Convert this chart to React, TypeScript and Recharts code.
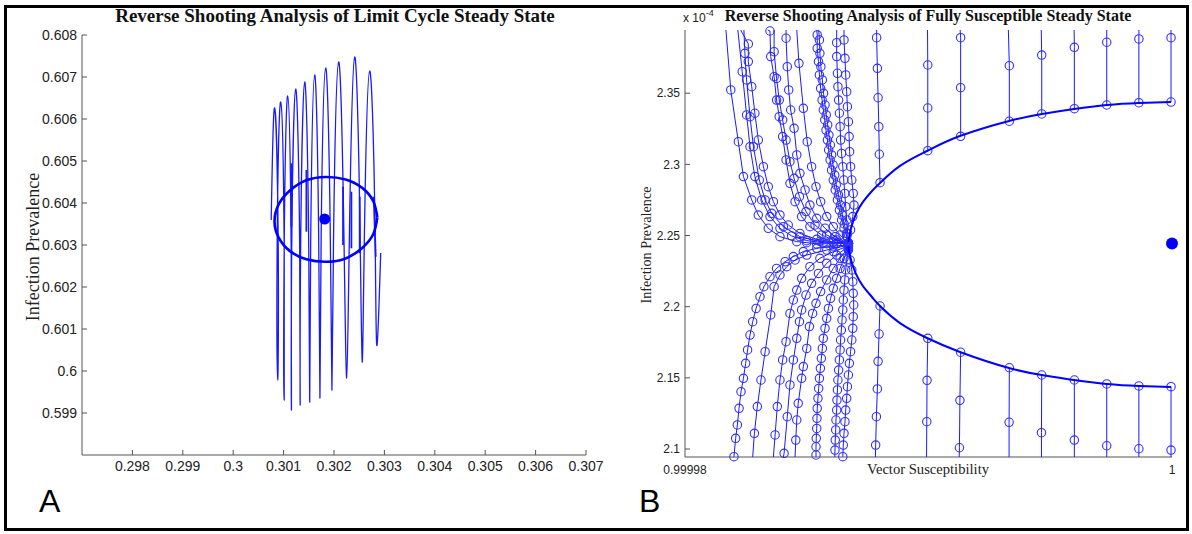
import React from 'react';
import { ComposedChart, Scatter, XAxis, YAxis } from 'recharts';

// ---------------- Panel A: limit cycle ----------------
const A_X_TICKS = [0.298, 0.299, 0.3, 0.301, 0.302, 0.303, 0.304, 0.305, 0.306, 0.307];
const A_Y_TICKS = [0.599, 0.6, 0.601, 0.602, 0.603, 0.604, 0.605, 0.606, 0.607, 0.608];

// trajectory: start, then per cycle: peak, down-stroke middle, trough, up-stroke middle
const A_SPIRAL = [
  [0.300754, 0.603595],
  [0.300823, 0.606262], [0.300893, 0.603024], [0.300883, 0.599786], [0.300873, 0.603095],
  [0.300942, 0.606405], [0.301012, 0.602857], [0.301012, 0.599309], [0.301012, 0.602928],
  [0.301081, 0.606548], [0.301151, 0.602809], [0.301156, 0.599071], [0.301161, 0.602881],
  [0.30124, 0.606714], [0.301319, 0.602952], [0.301329, 0.59919], [0.301339, 0.603024],
  [0.301419, 0.606881], [0.301498, 0.603071], [0.301518, 0.599262], [0.301538, 0.603143],
  [0.301617, 0.607048], [0.301696, 0.60319], [0.301721, 0.599357], [0.301746, 0.603286],
  [0.301835, 0.607214], [0.301925, 0.603381], [0.301959, 0.599547], [0.301994, 0.603452],
  [0.302093, 0.607357], [0.302192, 0.603595], [0.302252, 0.599833], [0.302311, 0.603643],
  [0.302411, 0.607476], [0.30251, 0.603833], [0.30256, 0.600214], [0.302609, 0.603667],
  [0.302708, 0.607143], [0.302808, 0.603881], [0.302847, 0.600619],
  [0.302927, 0.602809],
];

const A_STROKES = [
  [[0.301155, 0.604945], [0.301155, 0.603436]],
  [[0.301452, 0.604786], [0.301452, 0.603317]],
  [[0.302179, 0.604388], [0.302179, 0.603]],
  [[0.302345, 0.604269], [0.302345, 0.602921]],
  [[0.30251, 0.60415], [0.30251, 0.602802]],
  [[0.302788, 0.60415], [0.302828, 0.602721]],
];

const A_CYCLE = [
  [0.30286, 0.60366], [0.30278, 0.60404], [0.30256, 0.60436], [0.30223, 0.60456],
  [0.30184, 0.60462], [0.30145, 0.60454], [0.30112, 0.60429], [0.3009, 0.60396],
  [0.30082, 0.60356], [0.3009, 0.60318], [0.30112, 0.60286], [0.30145, 0.60266],
  [0.30184, 0.6026], [0.30223, 0.60268], [0.30256, 0.60293], [0.30278, 0.60326],
  [0.30286, 0.60366],
];

const A_STEADY = [[0.301815, 0.603619]];

// ---------------- Panel B: fully susceptible ----------------
// x stored as offset from 0.99998 in units of 1e-6, y in units of 1e-4
const B_X0 = 0.99998;
const B_X_TICKS = [0.99998, 1];
const B_Y_TICKS = [2.1, 2.15, 2.2, 2.25, 2.3, 2.35];
const B_Y_MIN = 2.0944;
const B_Y_MAX = 2.3944;

const UA = [[1.68, 2.401], [1.88, 2.3523], [2.19, 2.3159], [2.4, 2.2914], [2.74, 2.275], [3.01, 2.2644], [3.42, 2.2551], [3.9, 2.2492], [4.59, 2.2457], [5.0, 2.245], [5.41, 2.2441], [5.82, 2.2443], [6.23, 2.2443], [6.71, 2.2445]];
const UB = [[2.17, 2.401], [2.35, 2.3651], [2.53, 2.3347], [2.67, 2.3124], [2.87, 2.2914], [3.15, 2.275], [3.49, 2.2633], [3.9, 2.2551], [4.38, 2.2497], [5.0, 2.2464], [5.68, 2.245], [6.23, 2.2445], [6.71, 2.2445]];
const UC = [[2.29, 2.401], [2.6, 2.3846], [2.6, 2.3722], [2.74, 2.3546], [2.87, 2.3359], [3.01, 2.3171], [3.22, 2.2984], [3.42, 2.2843], [3.63, 2.2738], [3.9, 2.2644], [4.24, 2.2574], [4.72, 2.2515], [5.41, 2.2473], [6.09, 2.2455], [6.71, 2.2445]];
const UD = [[2.42, 2.401], [2.46, 2.378], [2.53, 2.3593], [2.67, 2.3335], [2.81, 2.3124], [3.05, 2.289], [3.29, 2.275], [3.56, 2.2656], [4.04, 2.2562], [4.72, 2.2492], [5.54, 2.2459], [6.71, 2.2445]];
const UE = [[3.4, 2.401], [3.49, 2.3937], [3.52, 2.3757], [3.66, 2.3616], [3.76, 2.3452], [3.87, 2.3335], [4.01, 2.3195], [4.15, 2.3031], [4.31, 2.2867], [4.52, 2.2738], [4.79, 2.2633], [5.13, 2.2562], [5.61, 2.2504], [6.09, 2.2469], [6.71, 2.2445]];
const UF = [[3.66, 2.401], [3.66, 2.3792], [3.76, 2.3604], [3.87, 2.3452], [4.01, 2.3312], [4.15, 2.3171], [4.31, 2.3019], [4.48, 2.2902], [4.7, 2.2773], [4.97, 2.2668], [5.34, 2.2574], [5.82, 2.2504], [6.23, 2.2469], [6.71, 2.2445]];
const UG = [[4.15, 2.401], [4.15, 2.3886], [4.2, 2.3686], [4.26, 2.3523], [4.34, 2.3382], [4.48, 2.3253], [4.59, 2.3066], [4.72, 2.2937], [4.93, 2.282], [5.13, 2.2714], [5.41, 2.2621], [5.75, 2.2551], [6.16, 2.2492], [6.71, 2.2445]];
const UH = [[4.59, 2.401], [4.68, 2.371], [4.86, 2.3394], [5.02, 2.3159], [5.2, 2.2984], [5.38, 2.2843], [5.57, 2.2738], [5.82, 2.2633], [6.09, 2.2562], [6.37, 2.2504], [6.71, 2.2445]];
const UI = [[5.41, 2.401], [5.43, 2.3909], [5.43, 2.3815], [5.48, 2.3722], [5.52, 2.3628], [5.57, 2.3534], [5.63, 2.3452], [5.68, 2.3382], [5.74, 2.3312], [5.79, 2.3241], [5.85, 2.3171], [5.9, 2.3101], [5.96, 2.3031], [6.02, 2.296], [6.09, 2.289], [6.17, 2.282], [6.26, 2.275], [6.34, 2.2679], [6.43, 2.2609], [6.53, 2.2551], [6.64, 2.2492], [6.71, 2.2445]];
const UI2 = [[5.49, 2.401], [5.52, 2.3874], [5.54, 2.378], [5.58, 2.3686], [5.64, 2.3593], [5.69, 2.3499], [5.75, 2.3417], [5.8, 2.3347], [5.86, 2.3277], [5.91, 2.3206], [5.97, 2.3136], [6.02, 2.3066], [6.08, 2.2996], [6.15, 2.2925], [6.21, 2.2855], [6.3, 2.2785], [6.38, 2.2714], [6.46, 2.2644], [6.54, 2.2581], [6.63, 2.2515], [6.71, 2.2445]];
const UJ = [[6.23, 2.401], [6.23, 2.3855], [6.23, 2.3757], [6.26, 2.364], [6.28, 2.3546], [6.31, 2.3452], [6.34, 2.3359], [6.37, 2.3265], [6.39, 2.3171], [6.43, 2.3077], [6.48, 2.2984], [6.52, 2.289], [6.56, 2.2796], [6.6, 2.2703], [6.64, 2.2609], [6.68, 2.2515], [6.71, 2.2445]];
const UK = [[6.53, 2.401], [6.53, 2.3874], [6.57, 2.3745], [6.6, 2.3628], [6.64, 2.3511], [6.67, 2.3405], [6.71, 2.33], [6.74, 2.3195], [6.76, 2.3089], [6.8, 2.2984], [6.85, 2.289], [6.91, 2.2796], [6.94, 2.2714], [6.89, 2.2633], [6.8, 2.2539], [6.71, 2.2445]];

const LA = [[6.71, 2.2433], [6.09, 2.2426], [5.41, 2.241], [4.86, 2.2387], [4.45, 2.2352], [4.11, 2.2316], [3.76, 2.2269], [3.49, 2.2211], [3.24, 2.2141], [3.08, 2.207], [2.92, 2.1988], [2.78, 2.1895], [2.67, 2.1801], [2.57, 2.1696], [2.49, 2.1602], [2.4, 2.1497], [2.3, 2.1403], [2.22, 2.1286], [2.15, 2.1169], [2.08, 2.1075], [2.01, 2.0946], [1.99, 2.088]];
const LA2 = [[6.71, 2.2433], [5.82, 2.2398], [5.0, 2.2363], [4.52, 2.2328], [4.18, 2.2281], [3.9, 2.2223], [3.66, 2.2141], [3.52, 2.1942], [3.29, 2.1684], [3.12, 2.1485], [2.97, 2.1298], [2.85, 2.111], [2.78, 2.088]];
const LB = [[6.71, 2.2426], [6.09, 2.2387], [5.54, 2.234], [5.13, 2.2281], [4.79, 2.2199], [4.59, 2.2117], [4.45, 2.2047], [4.31, 2.1953], [4.15, 2.1754], [4.01, 2.1626], [3.9, 2.1485], [3.79, 2.1298], [3.7, 2.1099], [3.63, 2.088]];
const LC = [[6.71, 2.2422], [6.23, 2.2363], [5.82, 2.2305], [5.48, 2.2234], [5.2, 2.2164], [4.97, 2.2082], [4.79, 2.1977], [4.7, 2.1895], [4.59, 2.1778], [4.45, 2.1626], [4.31, 2.145], [4.2, 2.1227], [4.07, 2.097], [4.04, 2.088]];
const LD = [[6.71, 2.2417], [6.37, 2.234], [6.09, 2.2269], [5.82, 2.2188], [5.57, 2.2106], [5.38, 2.2024], [5.24, 2.1953], [5.11, 2.186], [5.0, 2.1707], [4.86, 2.1579], [4.79, 2.1497], [4.65, 2.1321], [4.59, 2.1204], [4.55, 2.1063], [4.52, 2.088]];
const LE = [[6.71, 2.241], [6.53, 2.234], [6.37, 2.2269], [6.23, 2.2199], [6.09, 2.2129], [5.98, 2.2059], [5.89, 2.1988], [5.82, 2.1918], [5.75, 2.1848], [5.68, 2.1778], [5.64, 2.1707], [5.6, 2.1637], [5.56, 2.1567], [5.52, 2.1497], [5.49, 2.1426], [5.46, 2.1356], [5.43, 2.1286], [5.42, 2.1216], [5.41, 2.1145], [5.39, 2.1075], [5.38, 2.1016], [5.38, 2.0958], [5.38, 2.088]];
const LF = [[6.71, 2.2403], [6.64, 2.2328], [6.6, 2.2258], [6.56, 2.2188], [6.53, 2.2117], [6.5, 2.2047], [6.48, 2.1977], [6.45, 2.1907], [6.42, 2.1836], [6.39, 2.1766], [6.37, 2.1696], [6.34, 2.1626], [6.31, 2.1555], [6.28, 2.1485], [6.26, 2.1415], [6.24, 2.1344], [6.23, 2.1274], [6.2, 2.1204], [6.19, 2.1134], [6.17, 2.1063], [6.16, 2.0993], [6.15, 2.0923]];
const LG = [[6.71, 2.2398], [6.78, 2.2328], [6.85, 2.2258], [6.89, 2.2176], [6.91, 2.2094], [6.93, 2.2012], [6.91, 2.193], [6.89, 2.1848], [6.85, 2.1766], [6.8, 2.1684], [6.75, 2.1602], [6.71, 2.152], [6.67, 2.1438], [6.64, 2.1356], [6.6, 2.1274], [6.57, 2.1192], [6.53, 2.111], [6.5, 2.1028], [6.48, 2.0946]];

const COLUMNS = [
  [[7.87, 2.401], [7.87, 2.389], [7.9, 2.3675], [7.93, 2.3468], [7.96, 2.3265], [7.98, 2.3071], [8.01, 2.2871]],
  [[8.01, 2.2005], [7.97, 2.1808], [7.93, 2.1616], [7.9, 2.1422], [7.86, 2.1227], [7.83, 2.1028], [7.82, 2.088]],
  [[9.96, 2.401], [9.97, 2.3698], [9.97, 2.3396], [9.97, 2.3096]],
  [[9.97, 2.1778], [9.94, 2.1483], [9.93, 2.1192], [9.92, 2.088]],
  [[11.3, 2.401], [11.32, 2.389], [11.32, 2.3539], [11.32, 2.3197]],
  [[11.32, 2.168], [11.29, 2.1342], [11.27, 2.1009], [11.26, 2.088]],
  [[13.28, 2.401], [13.32, 2.3693], [13.32, 2.3303]],
  [[13.32, 2.1571], [13.31, 2.1188], [13.31, 2.088]],
  [[14.63, 2.401], [14.65, 2.3768], [14.65, 2.3354]],
  [[14.65, 2.152], [14.64, 2.1115], [14.64, 2.088]],
  [[15.98, 2.401], [15.99, 2.3822], [15.99, 2.3391]],
  [[15.99, 2.1485], [15.99, 2.1063], [15.99, 2.088]],
  [[17.32, 2.401], [17.32, 2.3858], [17.32, 2.3417]],
  [[17.32, 2.1457], [17.32, 2.1023], [17.32, 2.088]],
  [[18.64, 2.401], [18.64, 2.3881], [18.64, 2.3433]],
  [[18.64, 2.1443], [18.64, 2.1002], [18.64, 2.088]],
  [[19.96, 2.401], [19.96, 2.389], [19.96, 2.3438]],
  [[19.96, 2.1438], [19.96, 2.0993], [19.96, 2.088]],
];

const UPPER_C = [[6.71, 2.2455], [6.82, 2.2553], [7.02, 2.2651], [7.31, 2.2736], [7.68, 2.2813], [8.01, 2.2869], [8.83, 2.2989], [9.94, 2.3094], [11.29, 2.3199], [13.31, 2.3305], [14.66, 2.3354], [15.98, 2.3389], [17.33, 2.3417], [18.64, 2.3431], [19.96, 2.3438]];
const LOWER_C = [[6.71, 2.2426], [6.82, 2.2328], [7.02, 2.223], [7.31, 2.2145], [7.68, 2.2068], [8.01, 2.2005], [8.83, 2.1885], [9.94, 2.178], [11.29, 2.1682], [13.31, 2.1569], [14.66, 2.152], [15.98, 2.1485], [17.33, 2.1457], [18.64, 2.1443], [19.96, 2.1436]];

const B_STEADY = [{ x: 1, y: 2.2444 }];

const FAN = [UA, UB, UC, UD, UE, UF, UG, UH, UI, UI2, UJ, UK, LA, LA2, LB, LC, LD, LE, LF, LG];

// ---------------- helpers ----------------
const LINE = '#1a1aff';
const RING = '#3030ff';
const AXIS = '#555555';
const SANS = "'Liberation Sans', Arial, sans-serif";
const SERIF = "'Liberation Serif', 'Times New Roman', serif";

const ptsA = (arr: number[][]) => arr.map(([x, y]) => ({ x, y }));
const ptsB = (arr: number[][]) =>
  arr.map(([o, y]) => {
    const edge = y > B_Y_MAX || y < B_Y_MIN;
    const yy = y > B_Y_MAX ? B_Y_MAX : y < B_Y_MIN ? B_Y_MIN : y;
    return { x: B_X0 + o * 1e-6, y: yy, edge };
  });

const noShape = () => <g />;
const ring = (p: any) => {
  if (p == null || p.cx == null || (p.payload && p.payload.edge)) return <g />;
  return <circle cx={p.cx} cy={p.cy} r={4.2} fill="none" stroke={RING} strokeWidth={1.1} />;
};
const dotA = (p: any) => <circle cx={p.cx} cy={p.cy} r={5.5} fill="#0000ff" />;
const dotB = (p: any) => <circle cx={p.cx} cy={p.cy} r={6} fill="#0000ff" />;

const fmt = (v: number) => String(v);

const leftTick = (fs: number) => (props: any) => {
  const { x, y, payload } = props;
  return (
    <g>
      <line x1={x + 5} x2={x + 10} y1={y} y2={y} stroke={AXIS} />
      <text x={x} y={y} dy="0.35em" textAnchor="end" fontSize={fs} fontFamily={SANS} fill="#222">
        {fmt(payload.value)}
      </text>
    </g>
  );
};

const bottomTick = (fs: number, off: number, mark: boolean) => (props: any) => {
  const { x, y, payload } = props;
  return (
    <g>
      {mark && <line x1={x} x2={x} y1={y - 5} y2={y - 10} stroke={AXIS} />}
      <text x={x} y={y + off} textAnchor="middle" fontSize={fs} fontFamily={SANS} fill="#222">
        {fmt(payload.value)}
      </text>
    </g>
  );
};

export default function App() {
  return (
    <div style={{ position: 'fixed', left: 0, top: 0, width: 1192, height: 534, background: '#fff', overflow: 'hidden' }}>
      <div style={{ position: 'absolute', left: 0, top: 0 }}>
        <ComposedChart width={624} height={534} margin={{ top: 35, right: 38, bottom: 49, left: 22 }}>
          <XAxis type="number" dataKey="x" domain={[0.297, 0.307]} ticks={A_X_TICKS} interval={0} height={30}
            axisLine={{ stroke: AXIS }} tickLine={false} tickSize={0} tickMargin={5} tick={bottomTick(14, 11, true)} />
          <YAxis type="number" dataKey="y" domain={[0.598, 0.608]} ticks={A_Y_TICKS} interval={0} width={60}
            axisLine={{ stroke: AXIS }} tickLine={false} tickSize={0} tickMargin={5} tick={leftTick(14)} />
          <Scatter data={ptsA(A_SPIRAL)} line={{ stroke: LINE, strokeWidth: 1.3 }} lineJointType="natural" shape={noShape} isAnimationActive={false} />
          {A_STROKES.map((s, i) => (
            <Scatter key={'s' + i} data={ptsA(s)} line={{ stroke: LINE, strokeWidth: 1.8 }} shape={noShape} isAnimationActive={false} />
          ))}
          <Scatter data={ptsA(A_CYCLE)} line={{ stroke: '#0000ff', strokeWidth: 2.6 }} lineJointType="natural" shape={noShape} isAnimationActive={false} />
          <Scatter data={ptsA(A_STEADY)} shape={dotA} isAnimationActive={false} />
        </ComposedChart>
      </div>
      <div style={{ position: 'absolute', left: 600, top: 0 }}>
        <ComposedChart width={592} height={534} margin={{ top: 30, right: 20, bottom: 47, left: 25 }}>
          <XAxis type="number" dataKey="x" domain={[B_X0, 1]} ticks={B_X_TICKS} interval={0} height={30}
            axisLine={{ stroke: AXIS }} tickLine={false} tickSize={0} tickMargin={6} tick={bottomTick(12, 11, false)} />
          <YAxis type="number" dataKey="y" domain={[B_Y_MIN, B_Y_MAX]} ticks={B_Y_TICKS} interval={0} width={60}
            axisLine={{ stroke: AXIS }} tickLine={false} tickSize={0} tickMargin={5} tick={leftTick(12)} />
          {FAN.map((t, i) => (
            <Scatter key={'f' + i} data={ptsB(t)} line={{ stroke: LINE, strokeWidth: 1 }} shape={ring} isAnimationActive={false} />
          ))}
          {COLUMNS.map((t, i) => (
            <Scatter key={'c' + i} data={ptsB(t)} line={{ stroke: LINE, strokeWidth: 1 }} shape={ring} isAnimationActive={false} />
          ))}
          <Scatter data={ptsB(UPPER_C)} line={{ stroke: '#0000ff', strokeWidth: 2 }} lineJointType="natural" shape={noShape} isAnimationActive={false} />
          <Scatter data={ptsB(LOWER_C)} line={{ stroke: '#0000ff', strokeWidth: 2 }} lineJointType="natural" shape={noShape} isAnimationActive={false} />
          <Scatter data={B_STEADY} shape={dotB} isAnimationActive={false} />
        </ComposedChart>
      </div>
      <svg width={1192} height={534} style={{ position: 'absolute', left: 0, top: 0, pointerEvents: 'none' }}>
        <rect x={5.5} y={6.5} width={1182} height={523} fill="none" stroke="#000" strokeWidth={3} />
        <text x={335} y={22} textAnchor="middle" fontFamily={SERIF} fontWeight="bold" fontSize={19} fill="#111">
          Reverse Shooting Analysis of Limit Cycle Steady State
        </text>
        <text x={928} y={21} textAnchor="middle" fontFamily={SERIF} fontWeight="bold" fontSize={16} fill="#111">
          Reverse Shooting Analysis of Fully Susceptible Steady State
        </text>
        <text x={683} y={22} fontFamily={SANS} fontSize={12} fill="#222">
          x 10<tspan dy={-6} fontSize={9}>-4</tspan>
        </text>
        <text transform="translate(39,247) rotate(-90)" textAnchor="middle" fontFamily={SERIF} fontSize={18} fill="#222">
          Infection Prevalence
        </text>
        <text transform="translate(650.5,245) rotate(-90)" textAnchor="middle" fontFamily={SERIF} fontSize={14.2} fill="#222">
          Infection Prevalence
        </text>
        <text x={928} y={474} textAnchor="middle" fontFamily={SERIF} fontSize={14.6} fill="#222">
          Vector Susceptibility
        </text>
        <text x={39} y={512} fontFamily={SANS} fontSize={32} fill="#000">A</text>
        <text x={639} y={512} fontFamily={SANS} fontSize={32} fill="#000">B</text>
      </svg>
    </div>
  );
}
